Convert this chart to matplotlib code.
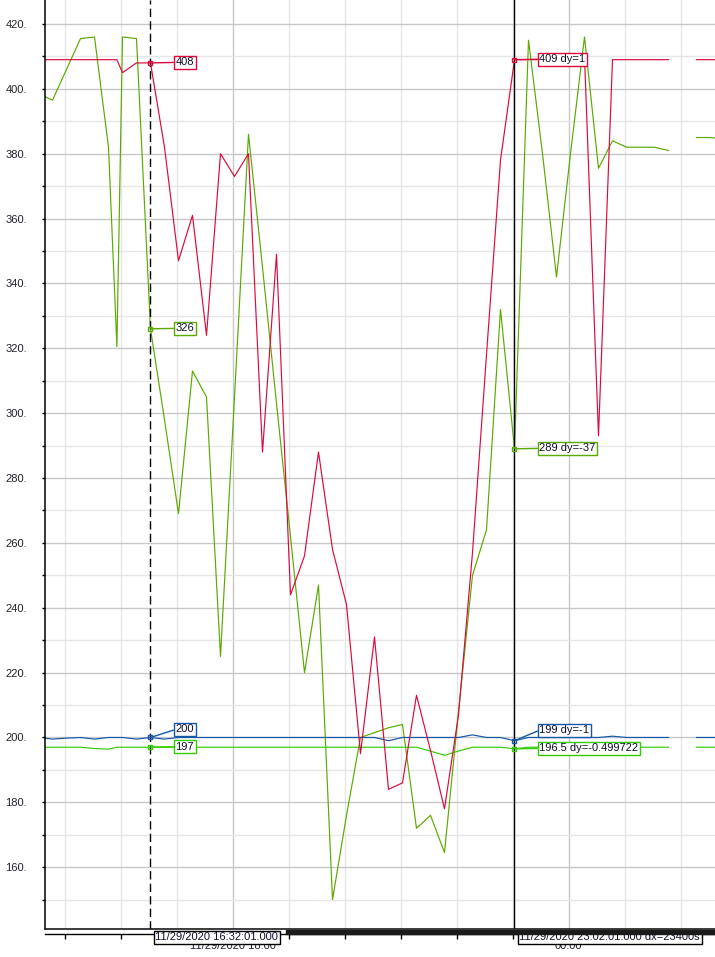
import matplotlib
matplotlib.use("Agg")
import matplotlib.pyplot as plt
import matplotlib.ticker as ticker
from matplotlib.patches import Rectangle
import numpy as np

nan = np.nan

# sample times (clock time, after midnight rolls over to next day)
times = ["14:32", "14:47", "15:02", "15:17", "15:32", "15:47", "15:56", "16:02", "16:17",
         "16:32", "16:47", "17:02", "17:17", "17:32", "17:47", "18:02", "18:17", "18:32", "18:47",
         "19:02", "19:17", "19:32", "19:47", "20:02", "20:17", "20:32", "20:47", "21:02", "21:17",
         "21:32", "21:47", "22:02", "22:17", "22:32", "22:47", "23:02", "23:17", "23:32", "23:47",
         "00:02", "00:17", "00:32", "00:47", "01:02", "01:17", "01:32", "01:47", "02:02", "02:17",
         "02:32", "02:47"]

red_vals = [409, 409, 409, 409, 409, 409, 409, 405, 408,
            408, 382, 347, 361, 324, 380, 373, 380, 288, 349,
            244, 256, 288, 258, 241, 195, 231, 184, 186, 213,
            196, 178, 207, 257, 318, 378, 409, 409, 409, 409,
            409, 410, 293, 409, 409, 409, 409, 409, nan, 409,
            409, 409]

olive_vals = [398.5, 396.5, 406, 415.5, 416, 382, 320.5, 416, 415.5,
              326, 298, 269, 313, 305, 225, 305, 386, 345, 303,
              262, 220, 247, 150, 176, 200, 201.5, 203, 204, 172,
              176, 164.5, 208, 250, 264, 332, 289, 415, 380, 342,
              380, 416, 375.5, 384, 382, 382, 382, 381, nan, 385,
              385, 384.5]

blue_vals = [200, 199.5, 199.8, 200, 199.5, 200, 200, 200, 199.5,
             200, 199.5, 200, 200, 200, 200, 200, 200, 200, 200,
             200, 200, 200, 200, 200, 200, 200, 199, 200, 200,
             200, 200, 200, 200.8, 200, 200, 199, 200, 200, 200,
             200, 200, 200, 200.4, 200, 200, 200, 200, nan, 200,
             200, 200]

green_vals = [197, 197, 197, 197, 196.6, 196.4, 197, 197, 197,
              197, 197, 197, 197, 197, 197, 197, 197, 197, 197,
              197, 197, 197, 197, 197, 197, 197, 197, 197, 197,
              195.8, 194.5, 195.8, 197, 197, 197, 196.5, 197, 197, 197,
              197, 197, 197, 197, 197, 197, 197, 197, nan, 197,
              197, 197]

date_str = "11/29/2020"
cursor_times = ["16:32:01", "23:02:01"]
cursor_boxes = ["11/29/2020 16:32:01.000", "11/29/2020 23:02:01.000 dx=23400s"]
cursor1_labels = ["408", "326", "200", "197"]
cursor2_labels = ["409 dy=1", "289 dy=-37", "199 dy=-1", "196.5 dy=-0.499722"]

colors = ["#dc0a3c", "#5aaa00", "#1458a8", "#33cc00"]


def to_hours(s):
    p = [int(v) for v in s.split(":")]
    sec = p[2] if len(p) > 2 else 1
    h = p[0] + p[1] / 60 + sec / 3600
    return h + 24 if h < 12 else h


t = np.array([to_hours(s) for s in times])
series = [np.array(red_vals, float), np.array(olive_vals, float),
          np.array(blue_vals, float), np.array(green_vals, float)]

plt.rcParams['font.family'] = ['Liberation Sans', 'DejaVu Sans']
W, H = 715, 957
fig = plt.figure(figsize=(W / 100, H / 100), dpi=100)
ax = fig.add_axes([45 / W, (H - 928.5) / H, 670 / W, 928.5 / H])

# draw order: olive, bright green, blue, red
for i in [1, 3, 2, 0]:
    ax.plot(t, series[i], color=colors[i], lw=0.85, zorder=2)

ax.set_xlim(14.6497, 26.614)
ax.set_ylim(141.1, 427.4)

ax.yaxis.set_major_locator(ticker.MultipleLocator(20))
ax.yaxis.set_minor_locator(ticker.MultipleLocator(10))
ax.yaxis.set_major_formatter(ticker.FuncFormatter(lambda v, p: "%d." % v))
ax.xaxis.set_major_locator(ticker.MultipleLocator(6))
ax.xaxis.set_minor_locator(ticker.MultipleLocator(1))
ax.xaxis.set_major_formatter(ticker.FuncFormatter(
    lambda v, p: (date_str + " " if int(v) % 24 == 18 else "") + "%02d:00" % (int(v) % 24)))

ax.grid(which='major', color='#c8c8c8', lw=1)
ax.grid(which='minor', color='#e6e6e6', lw=1)
ax.set_axisbelow(True)

ax.tick_params(axis='y', which='both', direction='out', length=2.4, width=1, pad=10.5,
               labelsize=8, labelcolor='#22222e')
ax.tick_params(axis='x', which='both', direction='out', length=3.6, width=1, pad=2,
               labelsize=8, labelcolor='#22222e')

for s in ['top', 'right']:
    ax.spines[s].set_visible(False)
ax.spines['left'].set_linewidth(1.1)
ax.spines['bottom'].set_position(('outward', 3.6))
ax.spines['bottom'].set_linewidth(1)
ax.plot([0, 1], [0, 0], transform=ax.transAxes, color='#1a1a1a', lw=1.2, clip_on=False, zorder=5)
fig.patches.append(Rectangle((286 / W, (H - 933.5) / H), (W - 286) / W, 3.5 / H,
                             transform=fig.transFigure, color='#1a1a1a', zorder=3))

# cursors
ct = [to_hours(s) for s in cursor_times]
ax.axvline(ct[0], color='black', lw=1, ls=(0, (6, 3)), zorder=4)
ax.axvline(ct[1], color='black', lw=1, zorder=4)

offsets = [[0.5, 0.5, 8, 0.5], [0.5, 0.5, 10.5, 0.5]]
for ci, labels in enumerate([cursor1_labels, cursor2_labels]):
    idx = int(np.argmin(np.abs(t - ct[ci])))
    for si in range(4):
        v = series[si][idx]
        ax.plot(ct[ci], v, 's', ms=3.5, mfc='none', mec=colors[si], mew=1, zorder=6)
        ax.annotate(labels[si], xy=(ct[ci], v), xytext=(25, offsets[ci][si]),
                    textcoords='offset pixels', ha='left', va='center', fontsize=8,
                    color='#101030', zorder=7,
                    bbox=dict(boxstyle='square,pad=0.15', fc='white', ec=colors[si], lw=1),
                    arrowprops=dict(arrowstyle='-', color=colors[si], lw=1,
                                    shrinkA=0, shrinkB=0, relpos=(0, 0.5)))
    ax.annotate(cursor_boxes[ci], xy=(ct[ci], 0), xycoords=('data', 'axes fraction'),
                xytext=(5, -4), textcoords='offset pixels', ha='left', va='top',
                fontsize=8, color='#101030', zorder=8, annotation_clip=False,
                bbox=dict(boxstyle='square,pad=0.15', fc='white', ec='black', lw=1))

fig.savefig("out.png", dpi=100)
